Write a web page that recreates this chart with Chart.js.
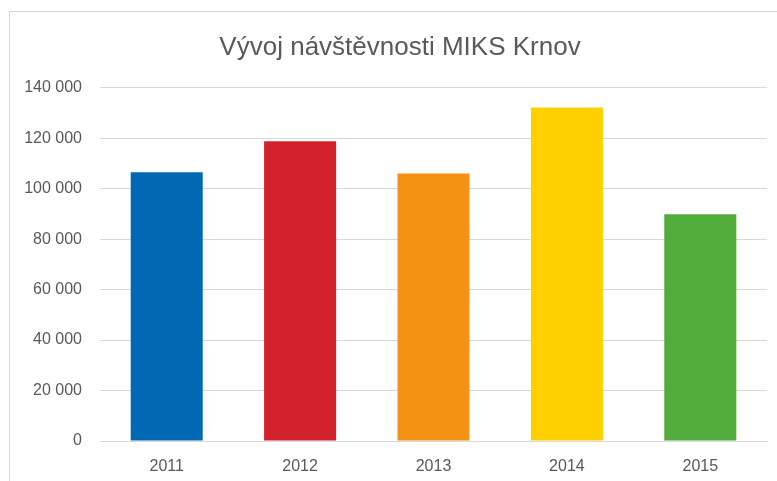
<!DOCTYPE html>
<html>
<head>
<meta charset="utf-8">
<script src="https://cdn.jsdelivr.net/npm/chart.js@4/dist/chart.umd.min.js"></script>
<style>
  html, body { margin: 0; padding: 0; background: #fff; overflow: hidden; }
  .frame { position: absolute; left: 9px; top: 11px; width: 780px; height: 480px; border: 1px solid #d9d9d9; }
  #chart { display: block; }
</style>
</head>
<body>
<div class="frame"><canvas id="chart" width="780" height="480"></canvas></div>
<script>
// data
const years = ['2011', '2012', '2013', '2014', '2015']
const visitors = [106500, 118800, 106000, 132200, 89900]
const barColors = ['#0069b4', '#d2232c', '#f39214', '#ffcf00', '#52ac3b']
const yTicks = [0, 20000, 40000, 60000, 80000, 100000, 120000, 140000]

const font = "'Liberation Sans', Arial, sans-serif"
const grey = '#595959'

// 140000 -> "140 000"
function fmt(v) {
    return String(v).replace(/\B(?=(\d{3})+(?!\d))/g, ' ')
}

// title is centred on the whole frame, not on the padded area
const centerTitle = {
    id: 'centerTitle',
    afterLayout(chart) {
        if (chart.titleBlock) {
            chart.titleBlock.left = 0
            chart.titleBlock.right = chart.width
        }
    }
}

const config = {
    type: 'bar',
    data: {
        labels: years,
        datasets: [{
            data: visitors,
            backgroundColor: barColors,
            borderWidth: 0,
            barPercentage: 0.54,
            categoryPercentage: 1
        }]
    },
    options: {
        responsive: false,
        animation: false,
        layout: { padding: { top: 20, right: 23, bottom: 0, left: 0 } },
        plugins: {
            legend: { display: false },
            tooltip: { enabled: false },
            title: {
                display: true,
                text: 'Vývoj návštěvnosti MIKS Krnov',
                color: grey,
                font: { family: font, size: 26, weight: 'normal' },
                padding: { top: 0, bottom: 24.6 }
            }
        },
        scales: {
            x: {
                grid: { display: false, drawTicks: false },
                border: { display: true, color: '#d9d9d9' },
                ticks: { color: grey, font: { family: font, size: 16 }, padding: 16 },
                afterFit: (axis) => { axis.height = 51 }
            },
            y: {
                min: 0,
                max: 140000,
                afterBuildTicks: (axis) => { axis.ticks = yTicks.map(v => ({ value: v })) },
                grid: { color: '#d9d9d9', drawTicks: false },
                border: { display: false },
                ticks: {
                    color: grey,
                    font: { family: font, size: 16 },
                    padding: 18,
                    callback: (v) => fmt(v)
                },
                afterFit: (axis) => { axis.width = 90 }
            }
        }
    },
    plugins: [centerTitle]
}

new Chart(document.getElementById('chart'), config)
</script>
</body>
</html>
